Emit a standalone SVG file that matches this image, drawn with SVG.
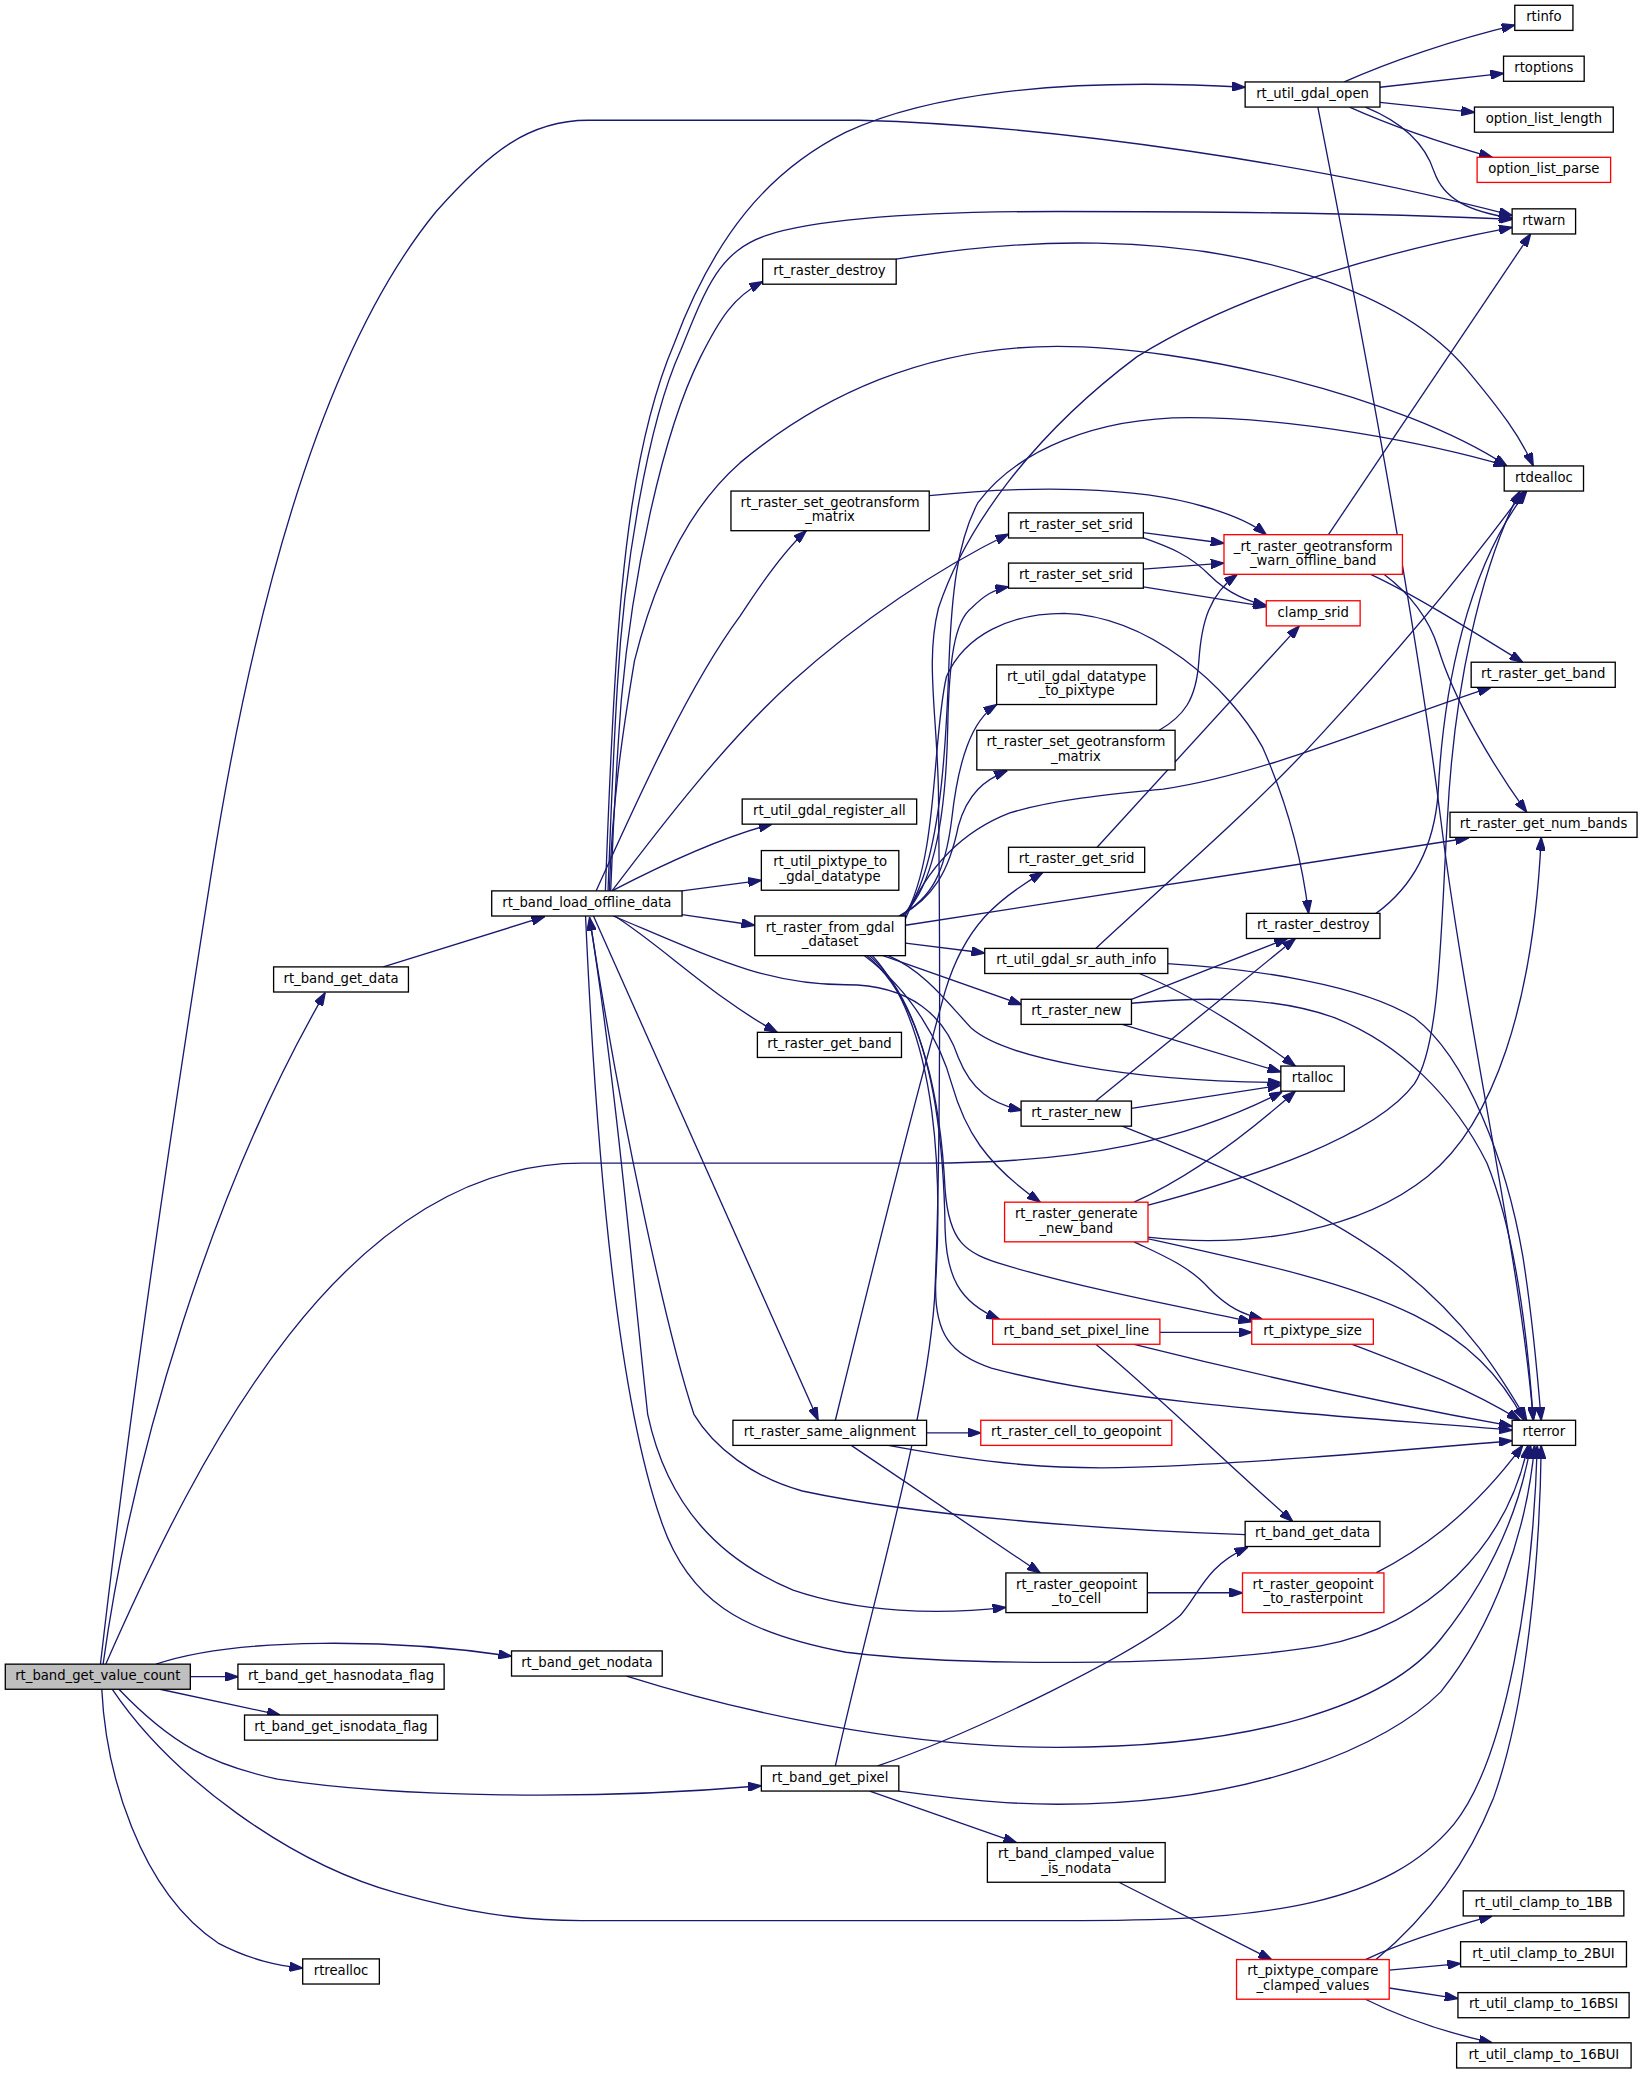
<svg xmlns="http://www.w3.org/2000/svg" width="1643" height="2075" viewBox="0 0 1643 2075">
<style>
.n rect{fill:#fff;stroke:#000;stroke-width:1}
.r rect{stroke:#f00}
.g rect{fill:#bfbfbf}
.n text{font-family:"DejaVu Sans","Liberation Sans",sans-serif;font-size:10px;text-anchor:middle;fill:#000}
.e path{fill:none;stroke:#191970;stroke-width:1;marker-end:url(#ah)}
</style>
<defs>
<marker id="ah" viewBox="0 0 10 7" refX="10" refY="3.5" markerWidth="10" markerHeight="7" orient="auto" markerUnits="userSpaceOnUse">
<path d="M0,0 L10,3.5 L0,7 z" fill="#191970" stroke="#191970" stroke-width="1"/>
</marker>
</defs>
<rect x="0" y="0" width="1643" height="2075" fill="#fff"/>
<g transform="scale(1.3218)">
<g id="edges" class="e">
<path d="M76,1259 C100,1050 130,850 160,660 C190,470 240,270 330,160 C370,115 400,91 445,91 L650,91 C800,95 1000,125 1144,163"/>
<path d="M78,1259 C100,1100 160,900 246,751"/>
<path d="M80,1259 C150,1100 260,880 440,880 L700,880 C820,880 900,862 970,826"/>
<path d="M144,1268.5 L180,1268.5"/>
<path d="M121,1278 L212,1297.5"/>
<path d="M118,1259 C180,1238 300,1240 387,1253"/>
<path d="M90,1278 C130,1320 160,1335 210,1346 C300,1360 450,1362 576,1351"/>
<path d="M85,1278 C130,1345 220,1410 300,1432 C350,1446 390,1453 440,1453 L818,1453 C960,1453 1050,1440 1100,1380 C1140,1330 1160,1200 1163,1094"/>
<path d="M77,1278 C80,1340 105,1430 165,1470 C190,1483 210,1487 229,1489"/>
<path d="M290,731.5 L412,693.5"/>
<path d="M458,674 C460,620 462,570 465,520 C470,430 480,330 510,260 C540,180 580,130 640,100 C700,72 800,58 942,66"/>
<path d="M460,674 C462,620 464,570 467,520 C472,430 490,320 515,265 C535,215 545,190 580,178 C620,165 700,160 800,160 C950,160 1060,162 1144,166"/>
<path d="M462,674 C464,620 467,570 470,530 C478,440 500,330 530,270 C545,240 555,225 577,213"/>
<path d="M461,674 C463,610 470,560 480,500 C495,440 520,385 560,350 C620,300 700,262 800,262 C900,262 1060,300 1140,352.5"/>
<path d="M451,674 C480,610 520,520 560,466 C580,435 595,415 610,401.5"/>
<path d="M463,674 C500,625 550,560 600,515 C650,470 710,430 763,404"/>
<path d="M463,674 C490,660 540,635 584,623.5"/>
<path d="M516,674 L576,666"/>
<path d="M516,692 L571,700"/>
<path d="M465,693 C500,715 540,755 588,781"/>
<path d="M449,693 L619,1074.5"/>
<path d="M446,694 C466,820 478,960 490,1070 C505,1140 545,1180 600,1203 C650,1220 710,1222 761,1216"/>
<path d="M443,693 C450,850 465,1050 500,1150 C520,1210 560,1235 640,1250 C720,1260 900,1262 1000,1245 C1080,1230 1140,1170 1156,1093.5"/>
<path d="M464,693 C540,725 580,745 640,745 C690,745 715,770 725,800 C735,825 750,835 773,840"/>
<path d="M942,1161 C850,1158 700,1148 607,1128 C570,1118 540,1095 525,1070 C505,1010 470,850 446,694"/>
<path d="M685,700 L1111,634"/>
<path d="M685,713.5 L745,721"/>
<path d="M668,723 L773,760"/>
<path d="M672,723 C700,735 718,760 735,778 C760,800 850,818 969,819"/>
<path d="M654,723 C690,750 712,790 720,820 C730,855 745,880 787,909.5"/>
<path d="M656,723 C700,760 712,840 715,900 C718,940 730,948 760,957 C820,975 900,990 947,1000"/>
<path d="M658,723 C705,765 714,860 715,930 C716,965 725,985 756,998"/>
<path d="M660,723 C712,780 712,900 708,968 C706,1010 720,1025 750,1035 C850,1062 1000,1070 1144,1082"/>
<path d="M680,693 C705,680 715,660 720,620 C725,575 735,545 754,533"/>
<path d="M681,693 C705,680 718,660 725,625 C732,600 745,590 762,583"/>
<path d="M682,693 C710,670 716,600 717,550 C718,500 722,470 735,460 C745,450 752,446 763,444"/>
<path d="M684,694 C710,650 705,560 716,512 C730,480 765,464 805,464 C870,466 930,520 955,565 C975,610 985,650 990,691"/>
<path d="M683,693 C712,660 716,560 718,500 C720,450 724,410 740,380 C770,340 830,316 900,316 C980,316 1080,335 1140,352.5"/>
<path d="M685,695 C700,660 725,630 764,615 C800,604 850,600 880,597 C960,585 1050,545 1128,520"/>
<path d="M632,1336 C660,1210 700,1080 707,983 C712,880 711,700 710,600 C709,540 700,500 710,460 C730,400 780,330 860,270 C940,220 1050,190 1144,172"/>
<path d="M664,1336 C740,1310 860,1250 893,1222 C908,1205 912,1185 944,1170.5"/>
<path d="M680,1355 C740,1363 770,1365 800,1365 C950,1365 1050,1320 1090,1280 C1130,1230 1155,1160 1161,1093.5"/>
<path d="M658,1355 L769,1394"/>
<path d="M474,1268 C560,1295 680,1322 800,1322 C950,1322 1050,1290 1090,1240 C1130,1190 1150,1140 1158,1093.5"/>
<path d="M1017,62 C1050,47 1100,30 1146,19"/>
<path d="M1044,66 L1137.5,55.5"/>
<path d="M1044,77.5 L1115.5,85"/>
<path d="M1021,81 C1050,94 1090,108 1129,119"/>
<path d="M1033,81 C1060,92 1078,108 1085,130 C1092,150 1110,160 1144,165"/>
<path d="M997,81 C1040,300 1075,500 1090,620 C1110,780 1150,950 1160,1074.5"/>
<path d="M678,196 C740,186 790,183 830,184 C950,186 1060,220 1110,280 C1135,310 1150,330 1160,352.5"/>
<path d="M703,375 C780,367 860,368 910,383 C935,390 950,398 958,404.5"/>
<path d="M865,403 L926,411"/>
<path d="M865,407 C885,414 900,420 915,435 C930,450 945,455 958,458"/>
<path d="M865,430.5 L926,426"/>
<path d="M865,444 L958,459"/>
<path d="M1005,404.5 L1158,177"/>
<path d="M1037,434.5 C1070,450 1110,475 1152,501"/>
<path d="M1047,434.5 C1065,448 1080,465 1088,490 C1100,530 1130,580 1155,614.5"/>
<path d="M830,641 L983,473.5"/>
<path d="M877,552.5 C895,542 905,530 907,500 C909,470 915,450 936,434.5"/>
<path d="M1041,691 C1070,670 1085,640 1088,600 C1092,520 1110,430 1155,371.5"/>
<path d="M829,717.5 C880,670 950,610 1000,555 C1060,490 1110,430 1153,371.5"/>
<path d="M862,736.5 C890,748 930,770 980,806.5"/>
<path d="M883,729 C950,733 1030,745 1070,770 C1110,800 1140,880 1152,950 C1160,1000 1164,1050 1166,1074.5"/>
<path d="M856,756 L974,710"/>
<path d="M849,775 L969,811"/>
<path d="M856,759 C900,755 960,752 1010,770 C1060,790 1100,830 1125,880 C1145,930 1155,1000 1160,1074.5"/>
<path d="M829,833 L980,710"/>
<path d="M856,838.5 L969,821"/>
<path d="M849,852 C920,880 1010,920 1060,960 C1110,1000 1135,1040 1155,1074.5"/>
<path d="M858,909.5 C890,895 930,870 980,825.5"/>
<path d="M868,912 C950,890 1040,860 1070,820 C1090,790 1090,700 1095,620 C1100,520 1120,430 1150,371.5"/>
<path d="M868,936 C950,945 1030,930 1080,890 C1130,850 1160,760 1166,633.5"/>
<path d="M858,939.5 C880,950 900,958 915,975 C930,990 940,994 955,998"/>
<path d="M868,937 C950,955 1020,970 1070,995 C1110,1015 1135,1040 1153,1074.5"/>
<path d="M877.5,1008 L947,1008"/>
<path d="M858,1017 C950,1040 1050,1062 1144,1079"/>
<path d="M829,1017 C870,1050 920,1100 978,1151"/>
<path d="M1023,1017 C1070,1035 1110,1050 1150,1074.5"/>
<path d="M701,1084 L742,1084"/>
<path d="M672,1093.5 C750,1108 800,1112 860,1110 C950,1107 1050,1098 1144,1090"/>
<path d="M644,1093.5 L787,1190"/>
<path d="M632,1074.5 C660,960 690,840 715,750 C730,700 755,680 789,660"/>
<path d="M868,1205 L940,1205"/>
<path d="M1041,1190 C1070,1175 1110,1150 1152,1093.5"/>
<path d="M846.5,1424 L962,1482.5"/>
<path d="M1033,1482.5 C1060,1470 1090,1460 1129,1449.5"/>
<path d="M1051,1490.5 L1105,1485.5"/>
<path d="M1051,1504 L1103,1512"/>
<path d="M1033,1512.5 C1060,1526 1095,1538 1129,1545.5"/>
<path d="M1041,1482.5 C1080,1450 1110,1410 1130,1360 C1155,1290 1165,1180 1166,1093.5"/>
</g>
<g id="n1" class="n g"><rect x="4" y="1259" width="140" height="19"/><text x="74" y="1271">rt_band_get_value_count</text></g>
<g id="n2" class="n"><rect x="207" y="731.5" width="102" height="19"/><text x="258" y="743.5">rt_band_get_data</text></g>
<g id="n3" class="n"><rect x="372" y="674" width="144" height="19"/><text x="444" y="686">rt_band_load_offline_data</text></g>
<g id="n4" class="n"><rect x="180" y="1259" width="156" height="19"/><text x="258" y="1271">rt_band_get_hasnodata_flag</text></g>
<g id="n5" class="n"><rect x="185" y="1297.5" width="146" height="19"/><text x="258" y="1309.5">rt_band_get_isnodata_flag</text></g>
<g id="n6" class="n"><rect x="387" y="1249" width="114" height="19"/><text x="444" y="1261">rt_band_get_nodata</text></g>
<g id="n7" class="n"><rect x="576" y="1336" width="104" height="19"/><text x="628" y="1348">rt_band_get_pixel</text></g>
<g id="n8" class="n"><rect x="229" y="1482" width="58" height="19"/><text x="258" y="1494">rtrealloc</text></g>
<g id="n9" class="n"><rect x="942" y="62" width="102" height="19"/><text x="993" y="74">rt_util_gdal_open</text></g>
<g id="n10" class="n"><rect x="1146" y="4" width="44" height="19"/><text x="1168" y="16">rtinfo</text></g>
<g id="n11" class="n"><rect x="1137.5" y="42.5" width="61" height="19"/><text x="1168" y="54.5">rtoptions</text></g>
<g id="n12" class="n"><rect x="1115.5" y="81" width="105" height="19"/><text x="1168" y="93">option_list_length</text></g>
<g id="n13" class="n r"><rect x="1117.5" y="119" width="101" height="19"/><text x="1168" y="131">option_list_parse</text></g>
<g id="n14" class="n"><rect x="1144" y="158" width="48" height="19"/><text x="1168" y="170">rtwarn</text></g>
<g id="n15" class="n"><rect x="577" y="196" width="101" height="19"/><text x="627.5" y="208">rt_raster_destroy</text></g>
<g id="n16" class="n"><rect x="1138" y="352.5" width="60" height="19"/><text x="1168" y="364.5">rtdealloc</text></g>
<g id="n17" class="n"><rect x="553" y="371.5" width="150" height="30"/><text x="628" y="383.5">rt_raster_set_geotransform</text><text x="628" y="394.5">_matrix</text></g>
<g id="n18" class="n"><rect x="763" y="388" width="102" height="19"/><text x="814" y="400">rt_raster_set_srid</text></g>
<g id="n19" class="n r"><rect x="926" y="404.5" width="135" height="30"/><text x="993.5" y="416.5">_rt_raster_geotransform</text><text x="993.5" y="427.5">_warn_offline_band</text></g>
<g id="n20" class="n"><rect x="763" y="426" width="102" height="19"/><text x="814" y="438">rt_raster_set_srid</text></g>
<g id="n21" class="n r"><rect x="958" y="454.5" width="71" height="19"/><text x="993.5" y="466.5">clamp_srid</text></g>
<g id="n22" class="n"><rect x="754" y="503" width="121" height="30"/><text x="814.5" y="515">rt_util_gdal_datatype</text><text x="814.5" y="526">_to_pixtype</text></g>
<g id="n23" class="n"><rect x="1113" y="501" width="109" height="19"/><text x="1167.5" y="513">rt_raster_get_band</text></g>
<g id="n24" class="n"><rect x="739" y="552.5" width="150" height="30"/><text x="814" y="564.5">rt_raster_set_geotransform</text><text x="814" y="575.5">_matrix</text></g>
<g id="n25" class="n"><rect x="561.5" y="604.5" width="132" height="19"/><text x="627.5" y="616.5">rt_util_gdal_register_all</text></g>
<g id="n26" class="n"><rect x="1097" y="614.5" width="141.5" height="19"/><text x="1167.75" y="626.5">rt_raster_get_num_bands</text></g>
<g id="n27" class="n"><rect x="576" y="643.5" width="104" height="30"/><text x="628" y="655.5">rt_util_pixtype_to</text><text x="628" y="666.5">_gdal_datatype</text></g>
<g id="n28" class="n"><rect x="763" y="641" width="103" height="19"/><text x="814.5" y="653">rt_raster_get_srid</text></g>
<g id="n29" class="n"><rect x="571" y="693" width="114" height="30"/><text x="628" y="705">rt_raster_from_gdal</text><text x="628" y="716">_dataset</text></g>
<g id="n30" class="n"><rect x="943" y="691" width="101" height="19"/><text x="993.5" y="703">rt_raster_destroy</text></g>
<g id="n31" class="n"><rect x="745" y="717.5" width="138.5" height="19"/><text x="814.25" y="729.5">rt_util_gdal_sr_auth_info</text></g>
<g id="n32" class="n"><rect x="772.5" y="756" width="83.5" height="19"/><text x="814.25" y="768">rt_raster_new</text></g>
<g id="n33" class="n"><rect x="573" y="781" width="109" height="19"/><text x="627.5" y="793">rt_raster_get_band</text></g>
<g id="n34" class="n"><rect x="969" y="806.5" width="48" height="19"/><text x="993" y="818.5">rtalloc</text></g>
<g id="n35" class="n"><rect x="772.5" y="833" width="83.5" height="19"/><text x="814.25" y="845">rt_raster_new</text></g>
<g id="n36" class="n r"><rect x="760" y="909.5" width="108.5" height="30"/><text x="814.25" y="921.5">rt_raster_generate</text><text x="814.25" y="932.5">_new_band</text></g>
<g id="n37" class="n r"><rect x="751" y="998" width="126.5" height="19"/><text x="814.25" y="1010">rt_band_set_pixel_line</text></g>
<g id="n38" class="n r"><rect x="947" y="998" width="92" height="19"/><text x="993" y="1010">rt_pixtype_size</text></g>
<g id="n39" class="n"><rect x="554.5" y="1074.5" width="146.5" height="19"/><text x="627.75" y="1086.5">rt_raster_same_alignment</text></g>
<g id="n40" class="n r"><rect x="742" y="1074.5" width="144.5" height="19"/><text x="814.25" y="1086.5">rt_raster_cell_to_geopoint</text></g>
<g id="n41" class="n"><rect x="1144" y="1074.5" width="48" height="19"/><text x="1168" y="1086.5">rterror</text></g>
<g id="n42" class="n"><rect x="942" y="1151" width="102" height="19"/><text x="993" y="1163">rt_band_get_data</text></g>
<g id="n43" class="n"><rect x="761" y="1190" width="107" height="30"/><text x="814.5" y="1202">rt_raster_geopoint</text><text x="814.5" y="1213">_to_cell</text></g>
<g id="n44" class="n r"><rect x="940" y="1190" width="107" height="30"/><text x="993.5" y="1202">rt_raster_geopoint</text><text x="993.5" y="1213">_to_rasterpoint</text></g>
<g id="n45" class="n"><rect x="747" y="1394" width="134.5" height="30"/><text x="814.25" y="1406">rt_band_clamped_value</text><text x="814.25" y="1417">_is_nodata</text></g>
<g id="n46" class="n r"><rect x="935.5" y="1482.5" width="115.5" height="30"/><text x="993.25" y="1494.5">rt_pixtype_compare</text><text x="993.25" y="1505.5">_clamped_values</text></g>
<g id="n47" class="n"><rect x="1107" y="1430.5" width="121.5" height="19"/><text x="1167.75" y="1442.5">rt_util_clamp_to_1BB</text></g>
<g id="n48" class="n"><rect x="1105" y="1469" width="125.5" height="19"/><text x="1167.75" y="1481">rt_util_clamp_to_2BUI</text></g>
<g id="n49" class="n"><rect x="1103" y="1507.5" width="129.5" height="19"/><text x="1167.75" y="1519.5">rt_util_clamp_to_16BSI</text></g>
<g id="n50" class="n"><rect x="1102" y="1545.5" width="132" height="19"/><text x="1168" y="1557.5">rt_util_clamp_to_16BUI</text></g>
</g>
</svg>
